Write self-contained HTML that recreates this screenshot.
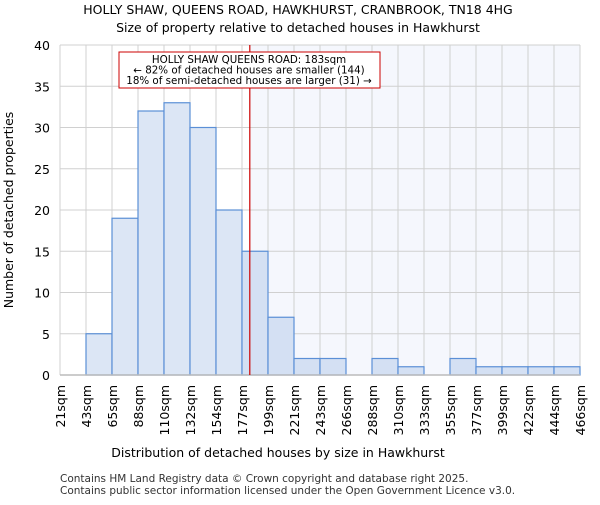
<!DOCTYPE html>
<html><head><meta charset="utf-8"><style>
body{margin:0;background:#fff;font-family:"Liberation Sans","DejaVu Sans",sans-serif}
</style></head><body>
<svg id="c" width="600" height="500" xmlns="http://www.w3.org/2000/svg" font-family="DejaVu Sans, Liberation Sans, sans-serif">
<text x="298" y="14" text-anchor="middle" font-size="12.5">HOLLY SHAW, QUEENS ROAD, HAWKHURST, CRANBROOK, TN18 4HG</text>
<text x="298" y="32" text-anchor="middle" font-size="12.5">Size of property relative to detached houses in Hawkhurst</text>
<g id="grid"></g><g id="bars"></g><g id="ticks"></g>
<text x="278" y="457" text-anchor="middle" font-size="12.5">Distribution of detached houses by size in Hawkhurst</text>
<text transform="translate(13,210) rotate(-90)" text-anchor="middle" font-size="12.5">Number of detached properties</text>
<text x="60" y="482" font-size="10.5" fill="#333">Contains HM Land Registry data © Crown copyright and database right 2025.</text>
<text x="60" y="494" font-size="10.5" fill="#333">Contains public sector information licensed under the Open Government Licence v3.0.</text>
</svg>
<script>
const categories=["21sqm","43sqm","65sqm","88sqm","110sqm","132sqm","154sqm","177sqm","199sqm","221sqm","243sqm","266sqm","288sqm","310sqm","333sqm","355sqm","377sqm","399sqm","422sqm","444sqm","466sqm"];
const counts=[0,5,19,32,33,30,20,15,7,2,2,0,2,1,0,2,1,1,1,1];
const yTicks=[0,5,10,15,20,25,30,35,40];
const markerBin=7.3;
const NS="http://www.w3.org/2000/svg";
const x0=60,x1=580,yb=375,yt=45,nb=counts.length;
const xs=i=>x0+i*(x1-x0)/nb, ys=v=>yb-v*(yb-yt)/40;
function mk(t,a,p){const e=document.createElementNS(NS,t);for(const k in a)e.setAttribute(k,a[k]);p.appendChild(e);return e;}
const g=document.getElementById('grid'),b=document.getElementById('bars'),tk=document.getElementById('ticks');
const mx=xs(markerBin);
const sh=mk('rect',{x:mx,y:yt,width:x1-mx,height:yb-yt,fill:'#f5f7fd'},g);


yTicks.forEach(v=>{
 const l=mk('line',{x1:x0,x2:x1,y1:ys(v),y2:ys(v),stroke:'#d0d0d0'},g);
 
 
 const t=mk('text',{x:x0-10,y:ys(v)+5,'text-anchor':'end','font-size':12.5},tk);t.textContent=v;
 
 
});
categories.forEach((c,i)=>{
 const l=mk('line',{x1:xs(i),x2:xs(i),y1:yt,y2:yb,stroke:'#d0d0d0'},g);
 
 
 const t=mk('text',{transform:`translate(${xs(i)+5},${yb+10}) rotate(-90)`,'text-anchor':'end','font-size':12.5},tk);t.textContent=c;
 
 
});
counts.forEach((v,i)=>{
 if(!v)return;
 const r=mk('rect',{x:xs(i),y:ys(v),width:xs(i+1)-xs(i),height:yb-ys(v),fill:i+0.5>markerBin?'#d4e0f3':'#dce6f5',stroke:'#5b8fd6','stroke-width':1.2},b);
 
 
});
const ax=mk('line',{x1:x0,x2:x1,y1:yb,y2:yb,stroke:'#bbb','stroke-width':1.5},tk);


const ml=mk('line',{x1:mx,x2:mx,y1:yt,y2:yb,stroke:'#c00','stroke-width':1.2},tk);


const bx=mk('rect',{x:119,y:52,width:261,height:36,fill:'#fff',stroke:'#c00'},tk);


["HOLLY SHAW QUEENS ROAD: 183sqm","← 82% of detached houses are smaller (144)","18% of semi-detached houses are larger (31) →"].forEach((s,k)=>{
 const t=mk('text',{x:249,y:63+k*10.5,'text-anchor':'middle','font-size':10.3},tk);t.textContent=s;
 
 
});
</script>
</body></html>
